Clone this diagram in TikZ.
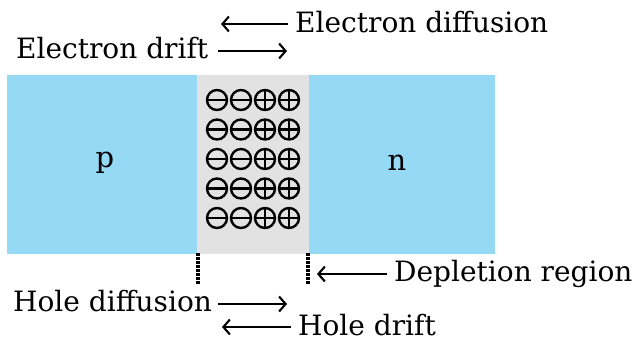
\documentclass[tikz,border=0pt]{standalone}
\usepackage{fontspec}
\setmainfont{DejaVu Serif}
\usetikzlibrary{arrows.meta}
\definecolor{pnblue}{RGB}{150,217,245}
\definecolor{deplgray}{RGB}{226,226,226}
\tikzset{
  lbl/.style={inner sep=0pt, anchor=base west, font=\fontsize{28}{30}\selectfont},
  side/.style={inner sep=0pt, font=\fontsize{29}{32}\selectfont},
  flow/.style={line width=1.4pt, -{Straight Barb[length=6.5pt,width=15pt,line width=2.1pt]}},
  edge/.style={line width=4pt, dash pattern=on 2.5pt off 1.5pt},
  ion/.style={line width=2.4pt},
}
\begin{document}
\begin{tikzpicture}[x=1pt,y=-1pt]
\useasboundingbox (0,0) rectangle (634,341);
% regions
\fill[pnblue] (7,75) rectangle (197,254);
\fill[deplgray] (197,75) rectangle (309,254);
\fill[pnblue] (309,75) rectangle (495,254);
\node[side] (p) at (105,163) {p};
\node[side] (n) at (397,163) {n};
% ions
\foreach \r in {100,129.5,159,188.5,218} {
  \foreach \c in {217,241} {
    \draw[ion] (\c,\r) circle (10);
    \draw[ion] (\c-10,\r) -- (\c+10,\r);
  }
  \foreach \c in {265,289} {
    \draw[ion] (\c,\r) circle (10);
    \draw[ion] (\c-10,\r) -- (\c+10,\r);
    \draw[ion] (\c,\r-10) -- (\c,\r+10);
  }
}
% depletion edges
\coordinate (e1t) at (198,253);
\coordinate (e1b) at (198,285);
\coordinate (e2t) at (308,253);
\coordinate (e2b) at (308,285);
\draw[edge] (e1t) -- (e1b);
\draw[edge] (e2t) -- (e2b);
% labels
\node[lbl] (ediff) at (295,32) {Electron diffusion};
\node[lbl] (edrift) at (16,58) {Electron drift};
\node[lbl] (depl) at (394,281) {Depletion region};
\node[lbl] (hdiff) at (13,311) {Hole diffusion};
\node[lbl] (hdrift) at (298,335) {Hole drift};
% arrows
\coordinate (a1s) at (288,24);
\coordinate (a1e) at (221,24);
\draw[flow] (a1s) -- (a1e);
\coordinate (a2s) at (218,51);
\coordinate (a2e) at (287,51);
\draw[flow] (a2s) -- (a2e);
\coordinate (a3s) at (387,274);
\coordinate (a3e) at (317,274);
\draw[flow] (a3s) -- (a3e);
\coordinate (a4s) at (218,304);
\coordinate (a4e) at (287,304);
\draw[flow] (a4s) -- (a4e);
\coordinate (a5s) at (291,327);
\coordinate (a5e) at (222,327);
\draw[flow] (a5s) -- (a5e);
\end{tikzpicture}
\end{document}
